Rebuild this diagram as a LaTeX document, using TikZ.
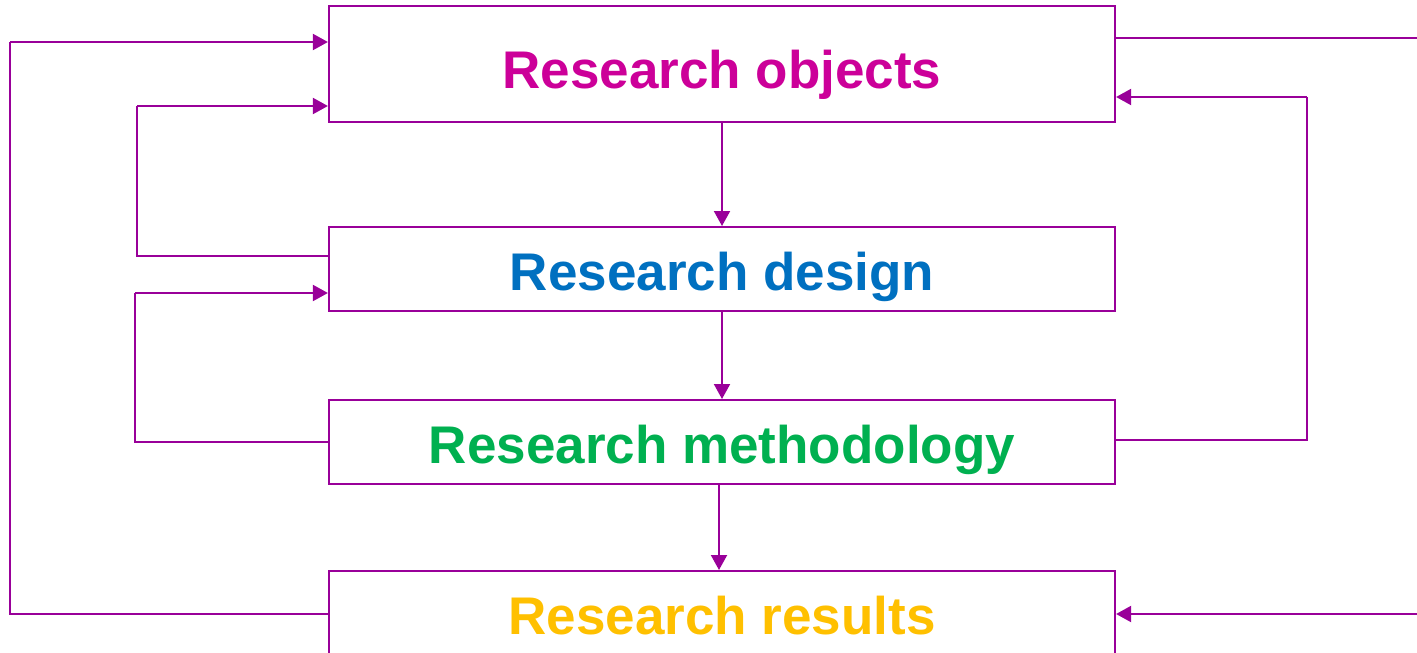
\documentclass[tikz,border=0pt]{standalone}
\usepackage{fontspec}
\setmainfont{Liberation Sans}
\usetikzlibrary{arrows.meta}
\definecolor{conn}{HTML}{990099}
\definecolor{cobj}{HTML}{CC0099}
\definecolor{cdes}{HTML}{0070C0}
\definecolor{cmet}{HTML}{00B050}
\definecolor{cres}{HTML}{FFC000}
\tikzset{
  box/.style={draw=conn, line width=2.2pt, inner sep=0pt, minimum width=786pt,
    anchor=north, font=\fontsize{53}{60}\selectfont\bfseries},
  thinline/.style={draw=conn, line width=1.6pt},
  arrline/.style={draw=conn, line width=2pt, -{Triangle[length=15pt,width=16pt]}},
}
\begin{document}
\begin{tikzpicture}[x=1pt,y=-1pt]
\useasboundingbox (0,0) rectangle (1417,653);
\clip (0,0) rectangle (1417,653);
\fill[white] (0,0) rectangle (1417,653);
% boxes
\node[box, text=cobj, text height=82pt, text depth=34pt] (b1) at (722,5) {Research objects};
\node[box, text=cdes, text height=63pt, text depth=21pt] (b2) at (722,226) {Research design};
\node[box, text=cmet, text height=63pt, text depth=21pt] (b3) at (722,399) {Research methodology};
\node[box, text=cres, text height=63pt, text depth=70pt] (b4) at (722,570) {Research results};
% vertical arrows
\draw[arrline] (b1.south) -- (b2.north);
\draw[arrline] (b2.south) -- (b3.north);
\draw[arrline] ([xshift=-3pt]b3.south) -- ([xshift=-3pt]b4.north);
% corner coordinates
\coordinate (oa) at (10,614);
\coordinate (ob) at (10,42);
\coordinate (ia) at (137,256);
\coordinate (ib) at (137,106);
\coordinate (ja) at (135,442);
\coordinate (jb) at (135,293);
\coordinate (ra) at (1307,440);
\coordinate (rb) at (1307,97);
\coordinate (rt) at (1430,38);
\coordinate (rr) at (1430,614);
% left outer loop
\draw[thinline] (oa -| b4.west) -- (oa) -- (ob);
\draw[arrline] (ob) -- (ob -| b1.west);
% left inner loops
\draw[thinline] (ia -| b2.west) -- (ia) -- (ib);
\draw[arrline] (ib) -- (ib -| b1.west);
\draw[thinline] (ja -| b3.west) -- (ja) -- (jb);
\draw[arrline] (jb) -- (jb -| b2.west);
% right side
\draw[thinline] (rt -| b1.east) -- (rt);
\draw[thinline] (ra -| b3.east) -- (ra) -- (rb);
\draw[arrline] (rb) -- (rb -| b1.east);
\draw[arrline] (rr) -- (rr -| b4.east);
\end{tikzpicture}
\end{document}
